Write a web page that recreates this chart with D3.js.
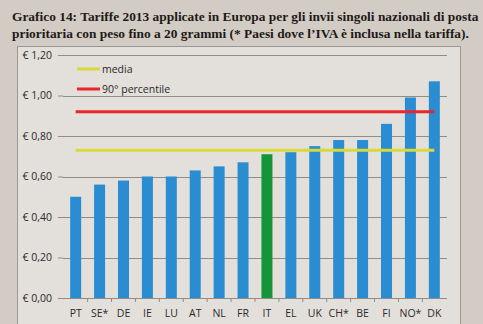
<!DOCTYPE html>
<html>
<head>
<meta charset="utf-8">
<script src="https://cdn.jsdelivr.net/npm/d3@7"></script>
<style>
  body { margin: 0; background: #d3ccc4; }
  svg { display: block; }
</style>
</head>
<body>
<div id="container"></div>
<script>
// data
var paesi = ["PT", "SE*", "DE", "IE", "LU", "AT", "NL", "FR", "IT", "EL", "UK", "CH*", "BE", "FI", "NO*", "DK"];
var tariffe = [0.50, 0.56, 0.58, 0.60, 0.60, 0.63, 0.65, 0.67, 0.71, 0.72, 0.75, 0.78, 0.78, 0.86, 0.99, 1.07];
var media = 0.73;
var percentile90 = 0.92;
var yTicks = [0, 0.2, 0.4, 0.6, 0.8, 1.0, 1.2];
var titleLines = [
  "Grafico 14: Tariffe 2013 applicate in Europa per gli invii singoli nazionali di posta",
  "prioritaria con peso fino a 20 grammi (* Paesi dove l\u2019IVA \u00e8 inclusa nella tariffa)."
];
var legend = [
  { label: "media", color: "#d9d93a" },
  { label: "90\u00b0 percentile", color: "#e8262b" }
];

var w = 483, h = 324;

var svg = d3.select("div#container")
  .append("svg")
  .attr("width", w)
  .attr("height", h);

// title
svg.append("g").selectAll("text")
  .data(titleLines)
  .enter().append("text")
  .attr("x", 12)
  .attr("y", function(d, i) { return 21 + i * 17; })
  .attr("font-family", "Liberation Serif, Times New Roman, serif")
  .attr("font-weight", "bold")
  .attr("font-size", 13.4)
  .attr("fill", "#1e1a18")
  .text(function(d) { return d; });

// chart box
svg.append("rect")
  .attr("x", 17.5)
  .attr("y", 46.5)
  .attr("width", 443)
  .attr("height", 290)
  .attr("fill", "#e3dfda")
  .attr("stroke", "#9c9894");

var margin = { left: 63, right: 447, top: 55, bottom: 298 };

var x = d3.scaleBand()
  .domain(paesi)
  .range([margin.left, margin.right])
  .paddingInner(0.54)
  .paddingOuter(0.3);

var y = d3.scaleLinear()
  .domain([0, 1.2])
  .range([margin.bottom, margin.top]);

var fmt = function(d) { return "\u20ac " + d3.format(".2f")(d).replace(".", ","); };

// gridlines
svg.append("g")
  .selectAll("line")
  .data(yTicks.slice(1))
  .enter().append("line")
  .attr("x1", margin.left)
  .attr("x2", margin.right)
  .attr("y1", function(d) { return Math.round(y(d)) + 0.5; })
  .attr("y2", function(d) { return Math.round(y(d)) + 0.5; })
  .attr("stroke", "#8f8c89")
  .attr("stroke-width", 1);

// y axis
var yAxis = svg.append("g")
  .attr("transform", "translate(" + margin.left + ",0)")
  .call(d3.axisLeft(y).tickValues(yTicks).tickFormat(fmt).tickSize(5).tickPadding(6));
yAxis.select(".domain").remove();
yAxis.selectAll("line").attr("stroke", "#8f8c89");
yAxis.selectAll("text")
  .attr("font-family", "Open Sans, DejaVu Sans, sans-serif")
  .attr("font-size", 10.5)
  .attr("fill", "#2b2a28");

// bars
svg.append("g")
  .selectAll("rect")
  .data(paesi)
  .enter().append("rect")
  .attr("x", function(d) { return x(d); })
  .attr("width", x.bandwidth())
  .attr("y", function(d, i) { return y(tariffe[i]); })
  .attr("height", function(d, i) { return y(0) - y(tariffe[i]); })
  .attr("fill", function(d) { return d === "IT" ? "#14953a" : "#2a8dd2"; });

// x axis
var xAxis = svg.append("g")
  .attr("transform", "translate(0," + margin.bottom + ")")
  .call(d3.axisBottom(x).tickSize(0).tickPadding(12));
xAxis.select(".domain").attr("stroke", "#8f8c89").attr("d", "M" + margin.left + ",0.5H" + margin.right);
xAxis.selectAll("text")
  .attr("font-family", "Open Sans, DejaVu Sans, sans-serif")
  .attr("font-size", 10.5)
  .attr("fill", "#2b2a28");
// small ticks between categories
var step = x.step();
xAxis.selectAll(".sep")
  .data(paesi.slice(1))
  .enter().append("line")
  .attr("x1", function(d) { return x(d) - step * 0.54 / 2; })
  .attr("x2", function(d) { return x(d) - step * 0.54 / 2; })
  .attr("y1", 0)
  .attr("y2", 4)
  .attr("stroke", "#8f8c89");

// reference lines
var x0 = x(paesi[0]) + x.bandwidth() / 2;
var x1 = x(paesi[paesi.length - 1]) + x.bandwidth() / 2;
svg.append("line")
  .attr("x1", x0).attr("x2", x1)
  .attr("y1", y(media)).attr("y2", y(media))
  .attr("stroke", legend[0].color)
  .attr("stroke-width", 3);
svg.append("line")
  .attr("x1", x0).attr("x2", x1)
  .attr("y1", y(percentile90)).attr("y2", y(percentile90))
  .attr("stroke", legend[1].color)
  .attr("stroke-width", 3);

// legend
var lg = svg.append("g").selectAll("g")
  .data(legend)
  .enter().append("g")
  .attr("transform", function(d, i) { return "translate(77," + (69 + i * 20) + ")"; });
lg.append("line")
  .attr("x1", 0).attr("x2", 23)
  .attr("stroke", function(d) { return d.color; })
  .attr("stroke-width", 3);
lg.append("text")
  .attr("x", 25)
  .attr("dy", "0.35em")
  .attr("font-family", "Open Sans, DejaVu Sans, sans-serif")
  .attr("font-size", 10.5)
  .attr("fill", "#2b2a28")
  .text(function(d) { return d.label; });
</script>
</body>
</html>
